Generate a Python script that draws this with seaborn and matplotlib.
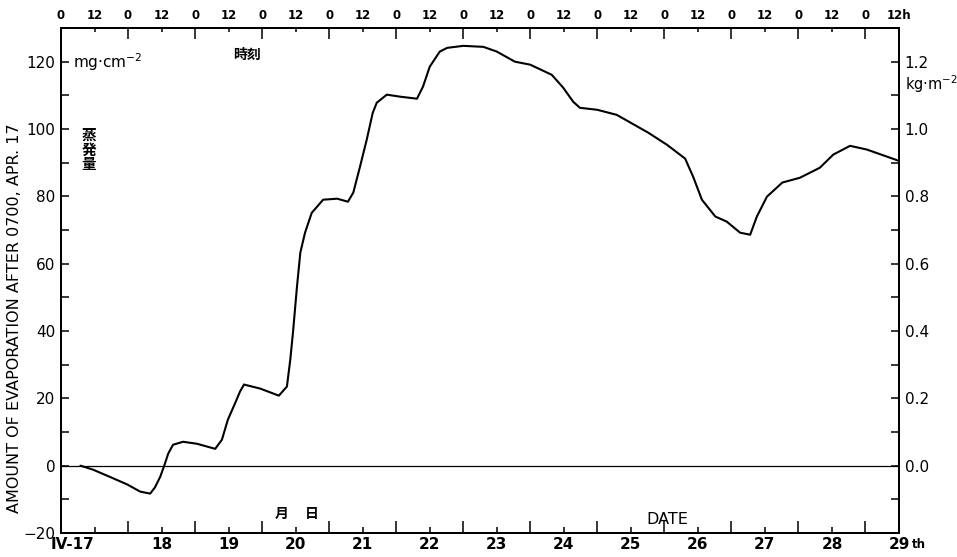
import numpy as np
import pandas as pd
import matplotlib
matplotlib.use("Agg")
import matplotlib.pyplot as plt
import seaborn as sns

# -----------------------------
# DATA
# -----------------------------
# time in days of April (17.0 = 0h, Apr. 17), evaporation in mg/cm2
days = [17.29, 17.48, 17.76, 17.99, 18.18, 18.33, 18.40, 18.48, 18.54, 18.60,
        18.67, 18.82, 19.03, 19.30, 19.40, 19.49, 19.60, 19.67, 19.73, 19.97,
        20.25, 20.37, 20.42, 20.46, 20.52, 20.57, 20.64, 20.74, 20.91, 21.12,
        21.28, 21.36, 21.46, 21.56, 21.65, 21.71, 21.86, 22.06, 22.31, 22.40,
        22.50, 22.65, 22.76, 23.00, 23.30, 23.50, 23.77, 24.00, 24.32, 24.49,
        24.64, 24.74, 25.00, 25.29, 25.76, 26.04, 26.31, 26.43, 26.56, 26.76,
        26.93, 27.13, 27.28, 27.38, 27.53, 27.76, 28.02, 28.32, 28.52, 28.77,
        29.02, 29.49]
evap = [0.0, -1.2, -3.6, -5.6, -7.7, -8.3, -6.5, -3.3, 0.0, 3.6,
        6.2, 7.1, 6.5, 5.0, 7.7, 13.7, 18.7, 22.0, 24.1, 22.9,
        20.8, 23.5, 31.5, 39.5, 53.2, 63.3, 69.2, 75.1, 79.0, 79.3,
        78.4, 81.1, 88.8, 96.8, 104.8, 107.8, 110.2, 109.6, 109.0, 112.6,
        118.5, 123.0, 124.1, 124.7, 124.4, 123.0, 120.0, 119.1, 116.1, 112.3,
        108.1, 106.3, 105.7, 104.2, 98.9, 95.3, 91.2, 85.8, 79.0, 74.0,
        72.5, 69.2, 68.6, 74.0, 79.9, 84.1, 85.5, 88.5, 92.4, 95.0,
        93.9, 90.6]

date_ticks = [17.5, 18.5, 19.5, 20.5, 21.5, 22.5, 23.5, 24.5, 25.5, 26.5, 27.5, 28.5, 29.5]
date_labels = ["IV-17", "18", "19", "20", "21", "22", "23", "24", "25", "26", "27", "28", "29"]
midnights = [18, 19, 20, 21, 22, 23, 24, 25, 26, 27, 28, 29]

hour0_ticks = [17, 18, 19, 20, 21, 22, 23, 24, 25, 26, 27, 28, 29]
hour12_ticks = [17.5, 18.5, 19.5, 20.5, 21.5, 22.5, 23.5, 24.5, 25.5, 26.5, 27.5, 28.5, 29.5]
hour12_labels = ["12"] * 12 + ["12h"]

left_major = [-20, 0, 20, 40, 60, 80, 100, 120]
left_minor = [-10, 10, 30, 50, 70, 90, 110]
right_major = [0.0, 0.2, 0.4, 0.6, 0.8, 1.0, 1.2]
right_minor = [-0.1, 0.1, 0.3, 0.5, 0.7, 0.9, 1.1]

df = pd.DataFrame({"day": days, "evap": evap})

# -----------------------------
# STYLE
# -----------------------------
sns.set_style("white")
plt.rcParams['font.family'] = ['DejaVu Sans', 'Noto Sans CJK JP']
plt.rcParams['axes.linewidth'] = 1.4
for key in ['text.color', 'axes.labelcolor', 'xtick.color', 'ytick.color', 'axes.edgecolor']:
    plt.rcParams[key] = 'black'

W, H = 957, 557
fig = plt.figure(figsize=(W / 100, H / 100), dpi=100)
ax = fig.add_axes([61 / W, 24 / H, 838 / W, 505 / H])

# -----------------------------
# CURVE
# -----------------------------
sns.lineplot(data=df, x="day", y="evap", ax=ax, color="black",
             linewidth=1.5, estimator=None, sort=False)
ax.axhline(0, color="black", linewidth=0.9)

ax.set_xlim(17.0, 29.5)
ax.set_ylim(-20, 130)
ax.set_xlabel("")
ax.set_ylabel("")

# bottom: date labels at noon, long ticks at midnight
ax.set_xticks(date_ticks, labels=date_labels)
ax.set_xticks(midnights, minor=True)
ax.tick_params(axis="x", which="major", direction="in", length=4, width=1.1,
               labelsize=11, pad=3, bottom=True)
ax.tick_params(axis="x", which="minor", direction="in", length=9, width=1.1, bottom=True)
ax.get_xticklabels()[0].set_ha("right")
for lab in ax.get_xticklabels():
    lab.set_fontweight("bold")

# left axis
ax.set_yticks(left_major)
ax.set_yticks(left_minor, minor=True)
ax.tick_params(axis="y", which="both", direction="in", length=6, width=1.1,
               labelsize=11, pad=4, left=True)

# top axis: hours
axt = ax.twiny()
axt.set_xlim(ax.get_xlim())
axt.set_xticks(hour0_ticks, labels=["0"] * len(hour0_ticks))
axt.set_xticks(hour12_ticks, labels=hour12_labels, minor=True)
axt.tick_params(axis="x", which="major", direction="in", length=8, width=1.1,
                labelsize=8.5, pad=4, top=True)
axt.tick_params(axis="x", which="minor", direction="in", length=3, width=1.1,
                labelsize=8.5, pad=4, top=True)
for lab in axt.get_xticklabels(which="both"):
    lab.set_fontweight("bold")

# right axis: kg/m2
axr = ax.twinx()
axr.set_ylim(-0.2, 1.3)
axr.set_yticks(right_major, labels=[f"{v:.1f}" for v in right_major])
axr.set_yticks(right_minor, minor=True)
axr.tick_params(axis="y", which="both", direction="in", length=6, width=1.1,
                labelsize=11, pad=4, right=True)

# -----------------------------
# TEXT
# -----------------------------
def px(x, y):
    return x / W, 1 - y / H

fig.text(*px(15, 318), "AMOUNT OF EVAPORATION AFTER 0700, APR. 17",
         rotation=90, ha="center", va="center", fontsize=11.5)
fig.text(*px(73, 62), "mg·cm$^{-2}$", ha="left", va="center", fontsize=11)
fig.text(*px(247, 55), "時刻", ha="center", va="center", fontsize=10, fontweight="bold")
fig.text(*px(89, 150), "蒸\n発\n量", ha="center", va="center", fontsize=10.5,
         fontweight="bold", linespacing=1.0)
fig.text(*px(282, 514), "月", ha="center", va="center", fontsize=10, fontweight="bold")
fig.text(*px(312, 514), "日", ha="center", va="center", fontsize=10, fontweight="bold")
fig.text(*px(667, 519), "DATE", ha="center", va="center", fontsize=11.5)
fig.text(*px(905, 84), "kg·m$^{-2}$", ha="left", va="center", fontsize=10.5)
fig.text(*px(912, 545), "th", ha="left", va="center", fontsize=8.5, fontweight="bold")

fig.savefig("out.png", dpi=100)
